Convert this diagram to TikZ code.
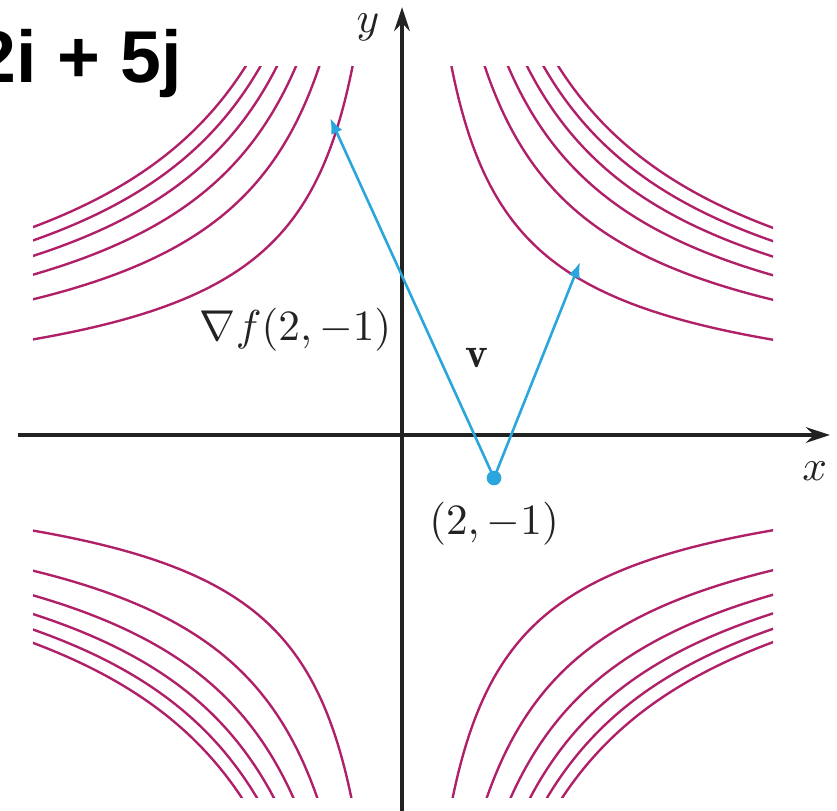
\documentclass[tikz,border=0pt]{standalone}
\usepackage{fontspec}
\usepackage{tikz}
\usetikzlibrary{positioning,arrows.meta}
\newfontfamily\headfont{Liberation Sans}
\definecolor{curve1}{HTML}{B02068}
\definecolor{vec1}{HTML}{2AA6DC}
\definecolor{axis1}{HTML}{222222}

\begin{document}
\begin{tikzpicture}[x=0.35cm, y=0.35cm,
  level/.style={line width=0.55pt, color=curve1},
  axisline/.style={line width=0.9pt, color=axis1, -{Stealth[length=5.5pt,width=3.6pt]}},
  vecline/.style={line width=0.6pt, color=vec1, -{Latex[length=3.6pt,width=2.8pt]}},
  lbl/.style={font=\fontsize{10}{12}\selectfont, text=axis1, inner sep=0pt}]
\useasboundingbox (-9.349,-8.744) rectangle (10.116,10.116);
% level curves x^2y^3-4y=c
\begin{scope}
\clip (-8.58,-8.44) rectangle (8.63,8.56);
\foreach \c in {800,2300,3800,5300,6800,8300} {
  \draw[level] plot[domain=2:8.6, samples=120, variable=\t] ({sqrt((\c+4*\t)/(\t^3))}, \t);
  \draw[level] plot[domain=2:8.6, samples=120, variable=\t] ({-sqrt((\c+4*\t)/(\t^3))}, \t);
  \draw[level] plot[domain=2:8.6, samples=120, variable=\t] ({sqrt((\c+4*\t)/(\t^3))}, -\t);
  \draw[level] plot[domain=2:8.6, samples=120, variable=\t] ({-sqrt((\c+4*\t)/(\t^3))}, -\t);
}
\end{scope}
% axes
\coordinate (xs) at (-8.93,0);
\coordinate (xe) at (9.95,0);
\coordinate (ys) at (0,-8.8);
\coordinate (ye) at (0,9.95);
\draw[axisline] (xs) -- (xe);
\draw[axisline] (ys) -- (ye);
\node[lbl] (xlab) at (9.60,-0.85) {$x$};
\node[lbl] (ylab) at (-0.79,9.47) {$y$};
% point and vectors
\node[circle, fill=vec1, inner sep=0pt, minimum size=3.4pt] (pt) at (2.14,-1) {};
\coordinate (gtip) at (-1.67,7.37);
\coordinate (vtip) at (4.14,4.02);
\draw[vecline] (pt.center) -- (gtip);
\draw[vecline] (pt.center) -- (vtip);
\node[lbl, below=3.5pt of pt] (ptlab) {$(2,-1)$};
\node[lbl, anchor=east] (glab) at (-0.23,2.44) {$\nabla f(2,-1)$};
\node[lbl] (vlab) at (1.74,1.79) {$\mathbf{v}$};
\node[font=\headfont\bfseries\fontsize{17}{20}\selectfont, anchor=base west, inner sep=0pt] (title) at (-9.93,8.19) {2i + 5j};
\end{tikzpicture}
\end{document}
